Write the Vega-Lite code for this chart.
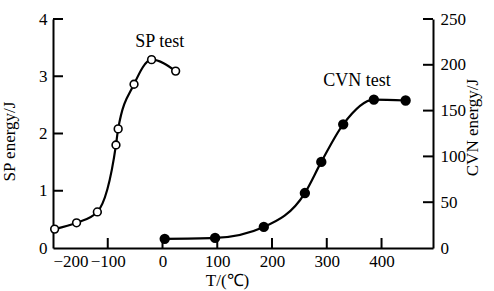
{
  "$schema": "https://vega.github.io/schema/vega-lite/v6.json",
  "width": 380,
  "height": 229,
  "autosize": {"type": "none"},
  "padding": {"left": 53, "top": 19, "right": 61, "bottom": 43},
  "background": "white",
  "config": {
    "view": {"stroke": null},
    "axis": {
      "grid": false,
      "ticks": false,
      "domainColor": "black",
      "domainWidth": 2,
      "labelFont": "Liberation Serif",
      "labelFontSize": 17,
      "labelColor": "black",
      "titleFont": "Liberation Serif",
      "titleFontSize": 17,
      "titleFontWeight": "normal",
      "titleColor": "black"
    }
  },
  "datasets": {
    "sp": [
      {"T": -197, "E": 0.33},
      {"T": -157, "E": 0.44},
      {"T": -119, "E": 0.63},
      {"T": -85, "E": 1.80},
      {"T": -81, "E": 2.08},
      {"T": -52, "E": 2.86},
      {"T": -20, "E": 3.29},
      {"T": 24, "E": 3.09}
    ],
    "cvn": [
      {"T": 4, "E": 10},
      {"T": 96, "E": 11},
      {"T": 185, "E": 23},
      {"T": 260, "E": 60},
      {"T": 290, "E": 94},
      {"T": 330, "E": 135},
      {"T": 386, "E": 162},
      {"T": 444, "E": 161}
    ],
    "xticks": [{"T": -100}, {"T": 0}, {"T": 100}, {"T": 200}, {"T": 300}, {"T": 400}],
    "lticks": [{"E": 1}, {"E": 2}, {"E": 3}, {"E": 4}],
    "rticks": [{"E": 50}, {"E": 100}, {"E": 150}, {"E": 200}, {"E": 250}],
    "splab": [{"T": -5, "E": 3.6, "label": "SP test"}],
    "cvnlab": [{"T": 355, "E": 182, "label": "CVN test"}]
  },
  "layer": [
    {
      "layer": [
        {
          "data": {"name": "sp"},
          "mark": {"type": "line", "color": "black", "strokeWidth": 2.2, "interpolate": "monotone"},
          "encoding": {
            "x": {"field": "T", "type": "quantitative", "scale": {"domain": [-200, 494], "nice": false, "zero": false},
                  "axis": {"values": [-200, -100, 0, 100, 200, 300, 400], "format": "d", "labelPadding": 5, "title": "T/(℃)", "titleX": 174, "titlePadding": 3}},
            "y": {"field": "E", "type": "quantitative", "scale": {"domain": [0, 4], "nice": false},
                  "axis": {"orient": "left", "values": [0, 1, 2, 3, 4], "format": "d", "labelPadding": 6, "title": "SP energy/J", "titleX": -35, "titleY": 122}}
          }
        },
        {
          "data": {"name": "sp"},
          "mark": {"type": "point", "shape": "circle", "filled": true, "fill": "white", "stroke": "black", "strokeWidth": 1.6, "size": 60, "opacity": 1},
          "encoding": {
            "x": {"field": "T", "type": "quantitative"},
            "y": {"field": "E", "type": "quantitative"}
          }
        },
        {
          "data": {"name": "xticks"},
          "mark": {"type": "rule", "color": "black", "strokeWidth": 2},
          "encoding": {
            "x": {"field": "T", "type": "quantitative"},
            "y": {"datum": 0, "type": "quantitative"},
            "y2": {"datum": 0.175}
          }
        },
        {
          "data": {"name": "lticks"},
          "mark": {"type": "rule", "color": "black", "strokeWidth": 2},
          "encoding": {
            "y": {"field": "E", "type": "quantitative"},
            "x": {"datum": -200, "type": "quantitative"},
            "x2": {"datum": -181.7}
          }
        },
        {
          "data": {"name": "splab"},
          "mark": {"type": "text", "font": "Liberation Serif", "fontSize": 18, "color": "black"},
          "encoding": {
            "x": {"field": "T", "type": "quantitative"},
            "y": {"field": "E", "type": "quantitative"},
            "text": {"field": "label"}
          }
        }
      ]
    },
    {
      "layer": [
        {
          "data": {"name": "cvn"},
          "mark": {"type": "line", "color": "black", "strokeWidth": 2.2, "interpolate": "monotone"},
          "encoding": {
            "x": {"field": "T", "type": "quantitative"},
            "y": {"field": "E", "type": "quantitative", "scale": {"domain": [0, 250], "nice": false},
                  "axis": {"orient": "right", "values": [0, 50, 100, 150, 200, 250], "format": "d", "labelPadding": 7, "title": "CVN energy/J", "titleAngle": -90, "titleX": 48, "titleY": 108}}
          }
        },
        {
          "data": {"name": "cvn"},
          "mark": {"type": "point", "shape": "circle", "filled": true, "fill": "black", "stroke": "black", "size": 70, "opacity": 1},
          "encoding": {
            "x": {"field": "T", "type": "quantitative"},
            "y": {"field": "E", "type": "quantitative"}
          }
        },
        {
          "data": {"name": "rticks"},
          "mark": {"type": "rule", "color": "black", "strokeWidth": 2},
          "encoding": {
            "y": {"field": "E", "type": "quantitative"},
            "x": {"datum": 475.7, "type": "quantitative"},
            "x2": {"datum": 494}
          }
        },
        {
          "data": {"name": "cvnlab"},
          "mark": {"type": "text", "font": "Liberation Serif", "fontSize": 18, "color": "black"},
          "encoding": {
            "x": {"field": "T", "type": "quantitative"},
            "y": {"field": "E", "type": "quantitative"},
            "text": {"field": "label"}
          }
        }
      ]
    }
  ],
  "resolve": {"scale": {"y": "independent"}, "axis": {"y": "independent"}}
}
